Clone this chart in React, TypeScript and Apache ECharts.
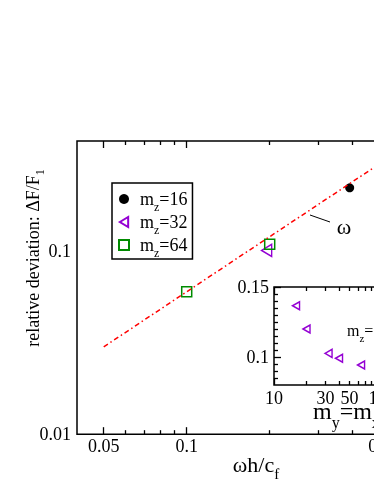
import React, { useEffect, useRef } from "react";
import * as echarts from "echarts";

// ---------- data ----------
const omegaLineX = [0.05, 0.6];
const omegaLineY = [0.03, 0.36];
const mz16X = [0.39];
const mz16Y = [0.222];
const mz32X = [0.195];
const mz32Y = [0.101];
const mz64X = [0.1, 0.2];
const mz64Y = [0.06, 0.109];
const insetMy = [16, 20, 32, 40, 64];
const insetDev = [0.1366, 0.12, 0.1026, 0.0991, 0.0943];

// ---------- ticks ----------
const mainXLabels = [0.05, 0.1, 0.5];
const mainXMinor = [0.06, 0.07, 0.08, 0.09, 0.2, 0.3, 0.4, 0.6, 0.7, 0.8, 0.9];
const mainYLabels = [0.01, 0.1];
const mainYMinor = [0.02, 0.03, 0.04, 0.05, 0.06, 0.07, 0.08, 0.09, 0.2, 0.3];
const insetXLabels = [10, 30, 50, 100];
const insetXMajor = [10, 100];
const insetXMinor = [20, 30, 40, 50, 60, 70, 80, 90];
const insetYLabels = [0.1, 0.15];
const insetYMinor = [0.085, 0.09, 0.095, 0.105, 0.11, 0.115, 0.12, 0.125, 0.13, 0.135, 0.14, 0.145];

const FONT = "'Liberation Serif', 'Times New Roman', serif";
const VIOLET = "#9400d3";
const GREEN = "#008b00";
const TRI = "path://M0,6L10,0L10,12Z";
const SQR = "path://M0,0L10,0L10,10L0,10Z";
const lg = (v: number) => Math.log10(v);
const fmtLog = (v: number) => String(Number(Math.pow(10, v).toPrecision(3)));
const fmtLin = (v: number) => String(Number(v.toPrecision(3)));

// main font size, subscript font size, line height (controls subscript drop)
const rich = (size: number, sub: number, lh: number) => ({
  a: { fontFamily: FONT, fontSize: size, lineHeight: lh, fill: "#000", color: "#000" },
  s: { fontFamily: FONT, fontSize: sub, lineHeight: 4, verticalAlign: "bottom", fill: "#000", color: "#000" },
});
// "m_z=16" -> rich string
const toRich = (t: string) =>
  t.replace(/_(\w)/g, "}{s|$1}{a|").replace(/^/, "{a|").concat("}").replace(/\{a\|\}/g, "");

function tickAxes(
  dim: "x" | "y",
  gridIndex: number,
  min: number,
  max: number,
  major: number[],
  minor: number[],
  labels: number[],
  fmt: (v: number) => string,
  margin: number
) {
  const sides = dim === "x" ? ["bottom", "top"] : ["left", "right"];
  const base = (position: string, ticks: number[], len: number, withLabels: boolean) => ({
    type: "value",
    gridIndex,
    position,
    min,
    max,
    axisLine: { show: false },
    splitLine: { show: false },
    axisTick: {
      show: true,
      inside: true,
      length: len,
      customValues: ticks,
      lineStyle: { color: "#000", width: 1.3 },
    },
    axisLabel: withLabels
      ? {
          show: true,
          customValues: labels,
          formatter: fmt,
          color: "#000",
          fontFamily: FONT,
          fontSize: 18,
          margin,
        }
      : { show: false },
  });
  return [
    base(sides[0], major, 7, true),
    base(sides[0], minor, 4, false),
    base(sides[1], major, 7, false),
    base(sides[1], minor, 4, false),
  ];
}

export default function App() {
  const ref = useRef<HTMLDivElement>(null);
  useEffect(() => {
    if (!ref.current) return;
    const chart = echarts.init(ref.current, null, { renderer: "svg" });
    const mainDx = 275.7;
    const mainDy = 183;
    const xMin = lg(0.04), xMax = 0;
    const yMin = -2, yMax = lg(0.4);
    const insD = 108;
    const ixMin = 1, ixMax = lg(200);

    const option: any = {
      animation: false,
      textStyle: { fontFamily: FONT },
      grid: [
        {
          left: 77,
          top: 141,
          width: (xMax - xMin) * mainDx,
          height: (yMax - yMin) * mainDy,
          show: true,
          borderColor: "#000",
          borderWidth: 1.5,
          backgroundColor: "transparent",
          outerBoundsMode: "none",
        },
        {
          left: 274,
          top: 287,
          width: (ixMax - ixMin) * insD,
          height: 98,
          show: true,
          borderColor: "#000",
          borderWidth: 1.5,
          backgroundColor: "transparent",
          outerBoundsMode: "none",
        },
      ],
      xAxis: [
        ...tickAxes("x", 0, xMin, xMax, mainXLabels.map(lg), mainXMinor.map(lg), mainXLabels.map(lg), fmtLog, 3),
        ...tickAxes("x", 1, ixMin, ixMax, insetXMajor.map(lg), insetXMinor.map(lg), insetXLabels.map(lg), fmtLog, 4),
      ],
      yAxis: [
        ...tickAxes("y", 0, yMin, yMax, mainYLabels.map(lg), mainYMinor.map(lg), mainYLabels.map(lg), fmtLog, 6),
        ...tickAxes("y", 1, 0.08, 0.15, insetYLabels, insetYMinor, insetYLabels, fmtLin, 5),
      ],
      legend: {
        show: true,
        orient: "vertical",
        left: 112,
        top: 183,
        data: ["m_z=16", "m_z=32", "m_z=64"],
        itemWidth: 22,
        itemHeight: 10,
        itemGap: 0,
        padding: [7, 5, 0, 6],
        borderColor: "#000",
        borderWidth: 1.5,
        borderRadius: 0,
        backgroundColor: "#fff",
        selectedMode: false,
        formatter: (name: string) => toRich(name),
        textStyle: { fontFamily: FONT, fontSize: 18, color: "#000", rich: rich(18, 12, 28) },
      },
      series: [
        {
          name: "omega",
          type: "line",
          xAxisIndex: 0,
          yAxisIndex: 0,
          data: omegaLineX.map((x, i) => [lg(x), lg(omegaLineY[i])]),
          symbol: "none",
          lineStyle: { color: "#ff0000", width: 1.5, type: [5, 3, 1.5, 3] },
          silent: true,
        },
        {
          name: "m_z=16",
          type: "scatter",
          xAxisIndex: 0,
          yAxisIndex: 0,
          data: mz16X.map((x, i) => [lg(x), lg(mz16Y[i])]),
          symbol: "circle",
          symbolSize: 9,
          itemStyle: { color: "#000", opacity: 1 },
        },
        {
          name: "m_z=32",
          type: "scatter",
          xAxisIndex: 0,
          yAxisIndex: 0,
          data: mz32X.map((x, i) => [lg(x), lg(mz32Y[i])]),
          symbol: TRI,
          symbolSize: [10, 12],
          itemStyle: { color: "rgba(0,0,0,0)", borderColor: VIOLET, borderWidth: 1.5, opacity: 1 },
        },
        {
          name: "m_z=64",
          type: "scatter",
          xAxisIndex: 0,
          yAxisIndex: 0,
          data: mz64X.map((x, i) => [lg(x), lg(mz64Y[i])]),
          symbol: SQR,
          symbolSize: 10,
          itemStyle: { color: "rgba(0,0,0,0)", borderColor: GREEN, borderWidth: 1.5, opacity: 1 },
        },
        {
          name: "inset",
          type: "scatter",
          xAxisIndex: 4,
          yAxisIndex: 4,
          data: insetMy.map((x, i) => [lg(x), insetDev[i]]),
          symbol: TRI,
          symbolSize: [7, 8],
          itemStyle: { color: "rgba(0,0,0,0)", borderColor: VIOLET, borderWidth: 1.5, opacity: 1 },
        },
      ],
      graphic: [
        {
          type: "text",
          x: 33,
          y: 258,
          rotation: Math.PI / 2,
          style: {
            text: toRich("relative deviation: ΔF/F_1"),
            rich: rich(18, 12, 26),
            align: "center",
            verticalAlign: "middle",
          },
        },
        {
          type: "text",
          x: 256,
          y: 464,
          style: {
            text: toRich("ωh/c_f"),
            rich: rich(22, 15, 35),
            align: "center",
            verticalAlign: "middle",
          },
        },
        {
          type: "text",
          x: 344,
          y: 226,
          style: { text: "ω", font: `22px ${FONT}`, fill: "#000", align: "center", verticalAlign: "middle" },
        },
        {
          type: "line",
          shape: { x1: 310, y1: 215, x2: 330, y2: 222 },
          style: { stroke: "#000", lineWidth: 1 },
        },
        {
          type: "text",
          x: 347,
          y: 330,
          style: {
            text: toRich("m_z=32"),
            rich: rich(16, 11, 26),
            align: "left",
            verticalAlign: "middle",
          },
        },
        {
          type: "text",
          x: 313,
          y: 411,
          style: {
            text: toRich("m_y=m_x"),
            rich: rich(24, 16, 38),
            align: "left",
            verticalAlign: "middle",
          },
        },
      ],
    };
    chart.setOption(option);
    return () => chart.dispose();
  }, []);
  return (
    <div
      ref={ref}
      style={{ position: "fixed", left: 0, top: 0, width: 480, height: 484 }}
    />
  );
}
